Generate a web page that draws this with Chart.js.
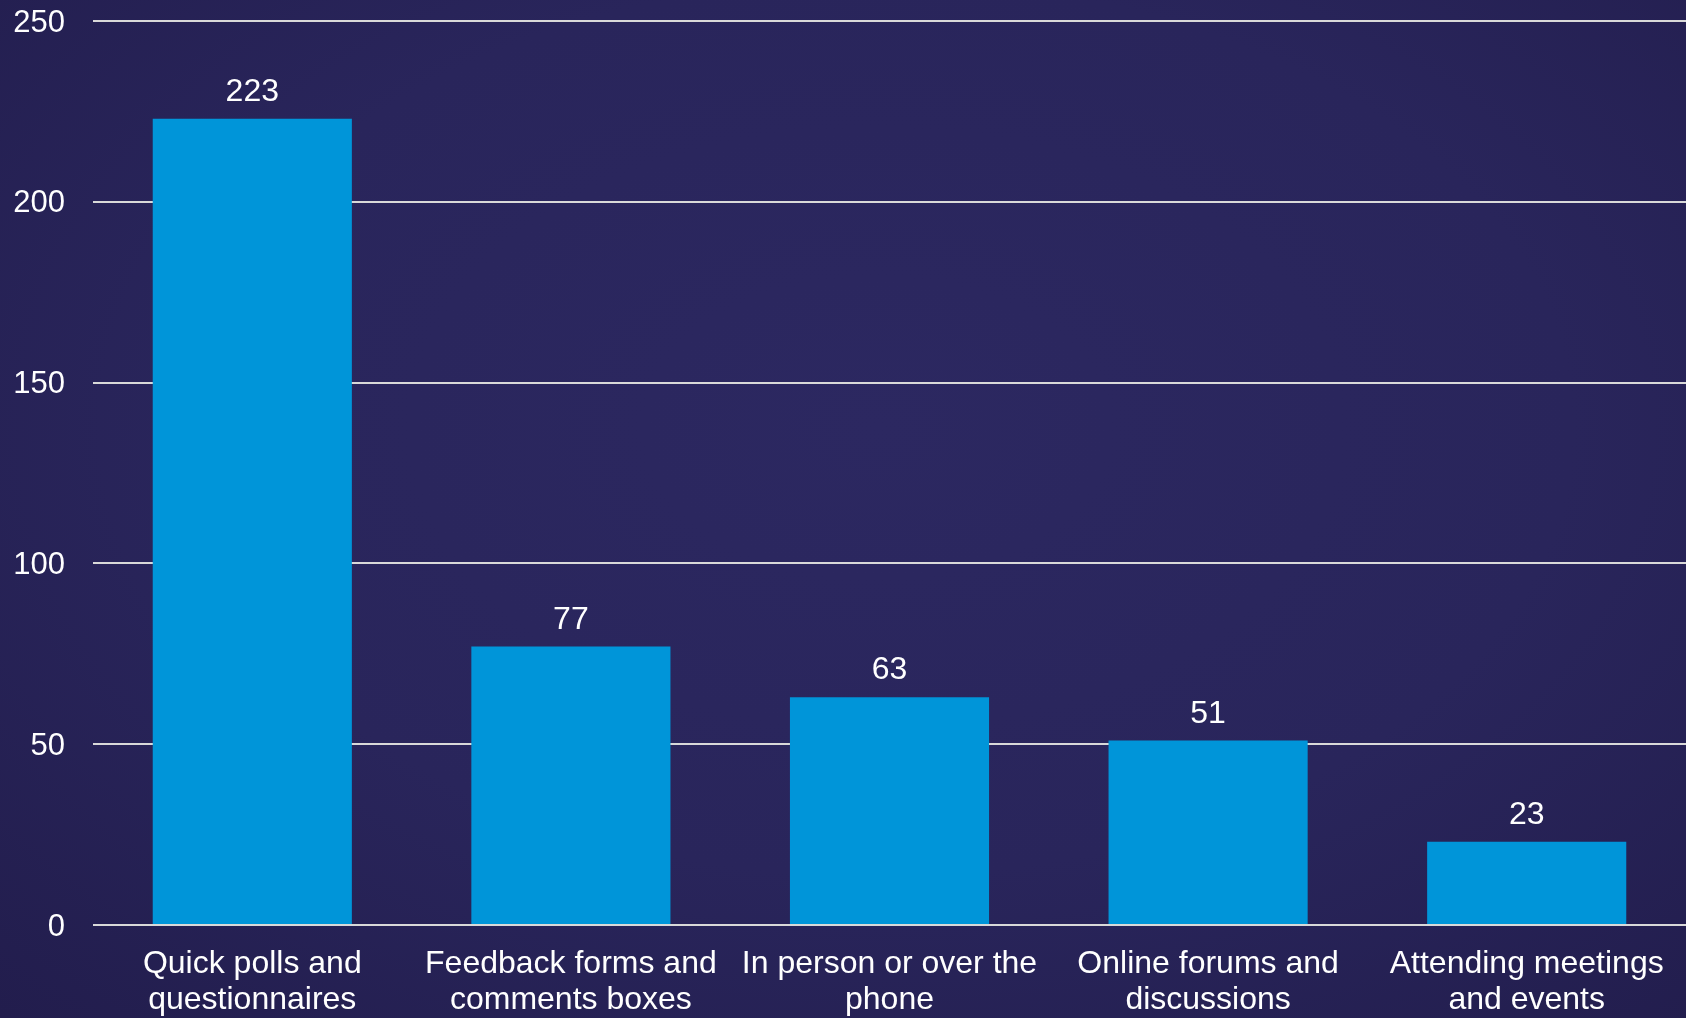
<!DOCTYPE html>
<html>
<head>
<meta charset="utf-8">
<script src="https://cdn.jsdelivr.net/npm/chart.js@4/dist/chart.umd.min.js"></script>
<style>
  html, body { margin: 0; padding: 0; }
  body {
    width: 1686px; height: 1018px; overflow: hidden;
    background: radial-gradient(ellipse 75% 80% at 52% 42%, #2c2861 0%, #29255b 55%, #221d4d 100%);
  }
  #wrap { position: relative; width: 1686px; height: 1018px; }
</style>
</head>
<body>
<div id="wrap"><canvas id="chart" width="1686" height="1018"></canvas></div>
<script>
// Engagement channels and response counts
const categories = [
  ["Quick polls and", "questionnaires"],
  ["Feedback forms and", "comments boxes"],
  ["In person or over the", "phone"],
  ["Online forums and", "discussions"],
  ["Attending meetings", "and events"]
];
const responses = [223, 77, 63, 51, 23];
const yTicks = [0, 50, 100, 150, 200, 250];

const FONT = "'Liberation Sans', Arial, sans-serif";

// Writes each bar's value just above it
const valueLabels = {
  id: 'valueLabels',
  afterDatasetsDraw(chart) {
    const ctx = chart.ctx;
    const meta = chart.getDatasetMeta(0);
    ctx.save();
    ctx.fillStyle = '#ffffff';
    ctx.font = '32px ' + FONT;
    ctx.textAlign = 'center';
    ctx.textBaseline = 'alphabetic';
    meta.data.forEach((bar, i) => {
      ctx.fillText(String(chart.data.datasets[0].data[i]), bar.x, bar.y - 18);
    });
    ctx.restore();
  }
};

new Chart(document.getElementById('chart'), {
  type: 'bar',
  data: {
    labels: categories,
    datasets: [{
      data: responses,
      backgroundColor: '#0095d9',
      borderWidth: 0,
      barPercentage: 0.625,
      categoryPercentage: 1.0
    }]
  },
  options: {
    responsive: false,
    animation: false,
    layout: { padding: { top: 21, right: 0, bottom: 0, left: 0 } },
    plugins: { legend: { display: false }, tooltip: { enabled: false } },
    scales: {
      x: {
        grid: { display: false, drawTicks: false },
        border: { display: false },
        ticks: {
          color: '#ffffff',
          font: { family: FONT, size: 32, lineHeight: 1.13 },
          padding: 21,
          maxRotation: 0,
          autoSkip: false
        },
        afterFit(scale) { scale.height = 93; }
      },
      y: {
        min: 0,
        max: 250,
        afterBuildTicks(scale) { scale.ticks = yTicks.map(v => ({ value: v })); },
        grid: { color: '#d9d9d9', lineWidth: 2, drawTicks: false },
        border: { display: false },
        ticks: {
          color: '#ffffff',
          font: { family: FONT, size: 31, lineHeight: 1.0 },
          padding: 28,
          labelOffset: 2
        },
        afterFit(scale) {
          scale.width = 93;
          scale.paddingTop = 0;
          scale.paddingBottom = 0;
        }
      }
    }
  },
  plugins: [valueLabels]
});
</script>
</body>
</html>
